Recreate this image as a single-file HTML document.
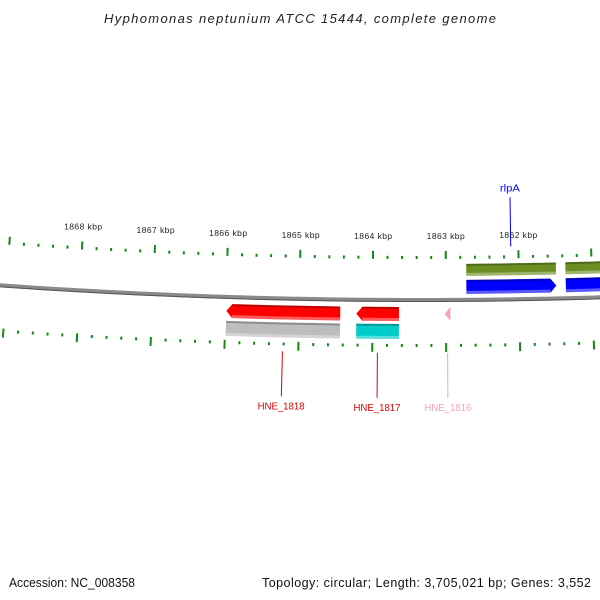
<!DOCTYPE html>
<html><head><meta charset="utf-8"><style>
body{margin:0;background:#fff}
svg{display:block;font-family:"Liberation Sans","DejaVu Sans",sans-serif}
</style></head><body>
<svg id="chart" width="600" height="600" viewBox="0 0 600 600" xmlns="http://www.w3.org/2000/svg">
<text x="300" y="23" text-anchor="middle" font-size="13" font-style="italic" fill="#222" textLength="392" lengthAdjust="spacing">Hyphomonas neptunium ATCC 15444, complete genome</text>
<text x="9" y="587" font-size="12.5" fill="#111" textLength="126" lengthAdjust="spacingAndGlyphs">Accession: NC_008358</text>
<text x="262" y="587" font-size="12.5" fill="#111" textLength="329" lengthAdjust="spacing">Topology: circular; Length: 3,705,021 bp; Genes: 3,552</text>
<g id="plot"></g>
</svg>
<script>
// data
const tickKbp = [1861,1862,1863,1864,1865,1866,1867,1868,1869];
const tickLabels = ["1861 kbp","1862 kbp","1863 kbp","1864 kbp","1865 kbp","1866 kbp","1867 kbp","1868 kbp","1869 kbp"];
const geneNames = ["rlpA","rlpA-next","HNE_1816","HNE_1817","HNE_1818"];
const geneStart = [1862.72,1861.36,1863.02,1864.22,1865.99];
const geneEnd = [1861.49,1860.3,1862.94,1863.64,1864.44];
const geneStrand = [1,1,-1,-1,-1];
const geneColor = ["#0000ff","#0000ff","#f7a0c8","#ff0000","#ff0000"];
const cdsColor = ["#6b8e23","#6b8e23",null,"#00cccc","#bdbdbd"];
const labelShown = [true,false,true,true,true];

const NS="http://www.w3.org/2000/svg";
const g=document.getElementById('plot');
const R=6000, X0=420, CY=300-R, KB0=1863.354, PXPERKB=72.8, RREF=5959;
function ang(kb){return (KB0-kb)*PXPERKB/RREF;}
function pt(kb,r){const a=ang(kb);return [X0+r*Math.sin(a), CY+r*Math.cos(a)];}
function el(tag,attrs){const e=document.createElementNS(NS,tag);for(const k in attrs)e.setAttribute(k,attrs[k]);g.appendChild(e);return e;}

// backbone
{const pts=[];for(let x=-10;x<=610;x+=10){pts.push(x+","+(CY+Math.sqrt(R*R-(x-X0)*(x-X0))).toFixed(2));}
const b=el('polyline',{points:pts.join(' '),fill:'none',stroke:'#8a8a8a','stroke-width':4});

const b2=el('polyline',{points:pts.join(' '),fill:'none',stroke:'#555','stroke-width':1,transform:'translate(0,1.5)'});
}

// ticks
const kmin=tickKbp[0], kmax=tickKbp[tickKbp.length-1];
for(let i=0;i<=(kmax-kmin)*5;i++){
  const kb=kmin+i*0.2, major=(i%5===0);
  [[5951,5959,5956],[6043,6052,6044]].forEach(function(rr,side){
    const r1=major?rr[0]:rr[2], r2=major?rr[1]:rr[2]+3;
    const a=pt(kb,r1), b=pt(kb,r2);
    if(a[0]<-5||a[0]>605)return;
    const t=el('line',{x1:a[0],y1:a[1],x2:b[0],y2:b[1],stroke:'#138a13','stroke-width':2});
    
    
  });
}
tickKbp.forEach(function(kb,i){
  const p=pt(kb,5939);
  if(p[0]<20||p[0]>590)return;
  const t=el('text',{x:p[0],y:p[1],'text-anchor':'middle','font-size':8.5,fill:'#222',textLength:38,lengthAdjust:'spacing'});
  t.textContent=tickLabels[i];
  
  
});

function band(s,e,r1,r2,arrow,fill,name){
  const N=8, pts=[], head=0.08;
  let bodyEnd=e;
  if(arrow){bodyEnd = e + (s>e?head:-head);}
  for(let k=0;k<=N;k++){const kb=s+(bodyEnd-s)*k/N;pts.push(pt(kb,r1));}
  if(arrow)pts.push(pt(e,(r1+r2)/2));
  for(let k=N;k>=0;k--){const kb=s+(bodyEnd-s)*k/N;pts.push(pt(kb,r2));}
  const p=el('polygon',{points:pts.map(q=>q[0].toFixed(2)+","+q[1].toFixed(2)).join(' '),fill:fill});
  
  
  const t1=[],t2=[];
  for(let k=0;k<=N;k++){const kb=s+(bodyEnd-s)*k/N;t1.push(pt(kb,r1+1));t2.push(pt(kb,r2-1.5));}
  const l1=el('polyline',{points:t1.map(q=>q.join(',')).join(' '),fill:'none',stroke:'rgba(0,0,0,0.25)','stroke-width':2});
  
  const l2=el('polyline',{points:t2.map(q=>q.join(',')).join(' '),fill:'none',stroke:'rgba(255,255,255,0.35)','stroke-width':3});
  
}

geneNames.forEach(function(n,i){
  const fwd=geneStrand[i]>0;
  if(fwd){
    band(geneStart[i],geneEnd[i],5980,5994,true,geneColor[i],'gene-'+n);
    if(cdsColor[i])band(geneStart[i],geneEnd[i],5964,5976,false,cdsColor[i],'cds-'+n);
  }else{
    band(geneEnd[i],geneStart[i],6007,6021,true,geneColor[i],'gene-'+n);
    if(cdsColor[i])band(geneEnd[i],geneStart[i],6024,6039,false,cdsColor[i],'cds-'+n);
  }
  if(labelShown[i]){
    const mid=(geneStart[i]+geneEnd[i])/2;
    const col=geneColor[i]==='#ff0000'?'#e00000':geneColor[i];
    let a,b,tp;
    if(fwd){a=pt(mid,5947);b=pt(mid,5898);tp=pt(mid,5892);}
    else{a=pt(mid,6053);b=pt(mid,6098);tp=pt(mid,6111);}
    const l=el('line',{x1:a[0],y1:a[1],x2:b[0],y2:b[1],stroke:col,'stroke-width':1});
    
    const t=el('text',{x:tp[0],y:tp[1],'text-anchor':'middle','font-size':10.5,fill:col,textLength:(n.length>4?47:20),lengthAdjust:'spacingAndGlyphs'});
    t.textContent=n;
    
  }
});
</script>
</body></html>
